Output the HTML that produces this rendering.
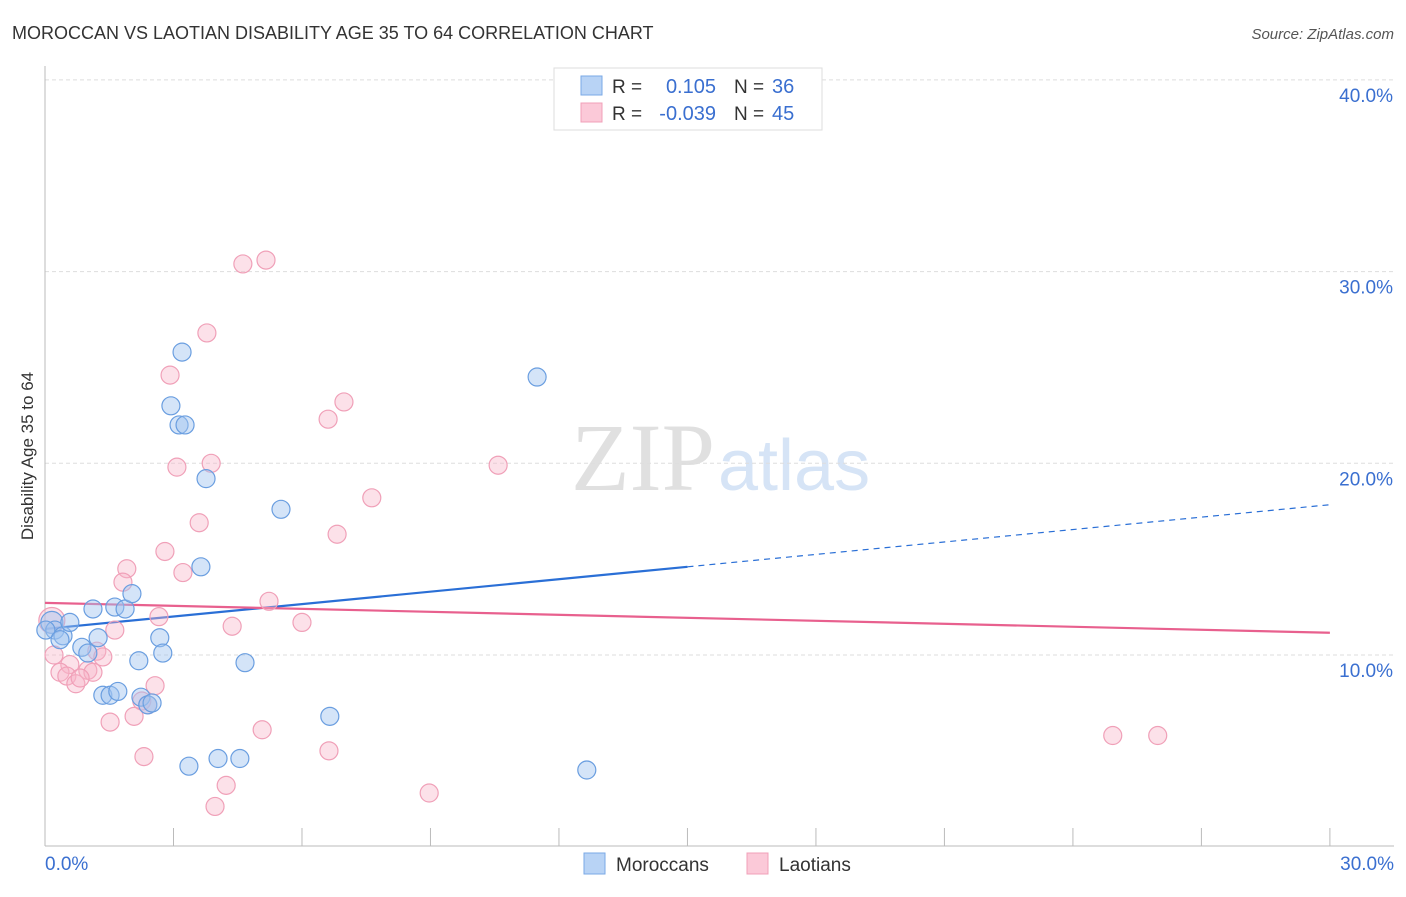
<!DOCTYPE html>
<html><head><meta charset="utf-8">
<style>
body{margin:0;background:#fff;font-family:"Liberation Sans",sans-serif;}
svg text{font-family:"Liberation Sans",sans-serif;}
</style></head>
<body>
<svg id="chart" width="1406" height="892" xmlns="http://www.w3.org/2000/svg">
<text x="12" y="39" font-size="18" fill="#333">MOROCCAN VS LAOTIAN DISABILITY AGE 35 TO 64 CORRELATION CHART</text>
<text x="1394" y="39" font-size="15" fill="#555" font-style="italic" text-anchor="end">Source: ZipAtlas.com</text>
<text x="0" y="0" transform="translate(33,456) rotate(-90)" font-size="17" fill="#333" text-anchor="middle">Disability Age 35 to 64</text>
<text x="715" y="490" font-size="96" fill="#e0e0e0" text-anchor="end" style="font-family:'Liberation Serif',serif">ZIP</text>
<text x="718" y="490" font-size="72" fill="#d6e4f6">atlas</text>
<g id="grid"></g><g id="axes"></g><g id="lines"></g><g id="pts"></g>
<g>
<rect x="554" y="68" width="268" height="62" fill="#fff" stroke="#ddd"/>
<rect x="581" y="76" width="21" height="19" fill="#b8d3f5" stroke="#7aa8e6"/>
<rect x="581" y="103" width="21" height="19" fill="#fbc9d8" stroke="#f0a0b8"/>
<text x="612" y="93" font-size="19" fill="#333">R =</text><text x="716" y="93" font-size="20" fill="#3a6fd0" text-anchor="end">0.105</text>
<text x="734" y="93" font-size="19" fill="#333">N =</text><text x="772" y="93" font-size="20" fill="#3a6fd0">36</text>
<text x="612" y="120" font-size="19" fill="#333">R =</text><text x="716" y="120" font-size="20" fill="#3a6fd0" text-anchor="end">-0.039</text>
<text x="734" y="120" font-size="19" fill="#333">N =</text><text x="772" y="120" font-size="20" fill="#3a6fd0">45</text>
</g>
<g>
<rect x="584" y="853" width="21" height="21" fill="#b8d3f5" stroke="#7aa8e6"/>
<text x="616" y="871" font-size="19" fill="#333">Moroccans</text>
<rect x="747" y="853" width="21" height="21" fill="#fbc9d8" stroke="#f0a0b8"/>
<text x="779" y="871" font-size="19" fill="#333">Laotians</text>
</g>
</svg>
<script>
const xTicks=[0,3,6,9,12,15,18,21,24,27,30];
const yTicks=[10,20,30,40];
const xLabels=["0.0%","30.0%"];
const yLabels=["10.0%","20.0%","30.0%","40.0%"];
const moroccanX=[0.16,0.23,0.42,0.58,1.12,1.24,0.86,1.00,1.63,1.87,2.03,2.19,2.68,2.75,3.20,2.94,3.13,3.27,3.76,3.64,5.51,4.67,11.49,1.35,1.52,1.70,2.24,2.40,2.50,3.36,4.04,4.55,6.65,12.65,0.02,0.35];
const moroccanY=[11.7,11.3,11.0,11.7,12.4,10.9,10.4,10.1,12.5,12.4,13.2,9.7,10.9,10.1,25.8,23.0,22.0,22.0,19.2,14.6,17.6,9.6,24.5,7.9,7.9,8.1,7.8,7.4,7.5,4.2,4.6,4.6,6.8,4.0,11.3,10.8];
const laotianX=[4.62,5.16,3.78,2.92,6.61,6.98,3.08,3.88,10.58,7.63,3.60,6.82,2.80,3.22,1.91,1.82,2.66,5.23,6.00,4.37,1.63,0.16,0.21,0.58,0.35,0.51,0.72,1.00,1.12,1.21,1.35,2.57,2.26,2.40,1.52,2.08,5.07,6.63,2.31,4.23,3.97,8.97,24.93,25.98,0.82];
const laotianY=[30.4,30.6,26.8,24.6,22.3,23.2,19.8,20.0,19.9,18.2,16.9,16.3,15.4,14.3,14.5,13.8,12.0,12.8,11.7,11.5,11.3,11.8,10.0,9.5,9.1,8.9,8.5,9.2,9.1,10.2,9.9,8.4,7.6,7.4,6.5,6.8,6.1,5.0,4.7,3.2,2.1,2.8,5.8,5.8,8.8];
const blueTrend=[11.36,0.216];
const blueSolidEnd=15;
const pinkTrend=[12.72,-0.052];
const X=v=>45+v*42.83, Y=v=>846.7-v*19.17;
const NS="http://www.w3.org/2000/svg";
function mk(tag,attrs,parent){const e=document.createElementNS(NS,tag);for(const k in attrs)e.setAttribute(k,attrs[k]);parent.appendChild(e);return e;}
const grid=document.getElementById('grid'),axes=document.getElementById('axes'),lines=document.getElementById('lines'),pts=document.getElementById('pts');
yTicks.forEach((t,i)=>{
 const g=mk('line',{x1:45,x2:1394,y1:Y(t),y2:Y(t),stroke:'#ddd','stroke-dasharray':'4,3'},grid);
 
 
 const l=mk('text',{x:1393,y:Y(t)+22,'font-size':19,fill:'#3a6fd0','text-anchor':'end'},axes);
 l.textContent=yLabels[i];
 
 
});
const ax=mk('line',{x1:45,x2:45,y1:66,y2:846,stroke:'#bbb'},axes);


const bx=mk('line',{x1:45,x2:1394,y1:846,y2:846,stroke:'#bbb'},axes);


xTicks.forEach(t=>{const e=mk('line',{x1:X(t),x2:X(t),y1:828,y2:846,stroke:'#bbb'},axes);
 
 });
[[0,'start',45],[30,'end',1394]].forEach((a,i)=>{const e=mk('text',{x:a[2],y:870,'font-size':19,fill:'#3a6fd0','text-anchor':a[1]},axes);e.textContent=xLabels[i];
 
 });
function pt(x,y,fill,stroke,r){const c=mk('circle',{cx:X(x),cy:Y(y),r:r||9,fill:fill,stroke:stroke,'stroke-width':1.2},pts);return c;}
laotianX.forEach((x,i)=>{const c=pt(x,laotianY[i],'rgba(248,180,200,0.4)','#f0a0b8',i==21?13:9);
 
 });
moroccanX.forEach((x,i)=>{const c=pt(x,moroccanY[i],'rgba(160,196,240,0.45)','#6a9ee0',i==0?11:9);
 
 });
const f=(t,x)=>t[0]+t[1]*x;
const b1=mk('line',{x1:X(0),y1:Y(f(blueTrend,0)),x2:X(blueSolidEnd),y2:Y(f(blueTrend,blueSolidEnd)),stroke:'#2a6fd6','stroke-width':2.2},lines);


const b2=mk('line',{x1:X(blueSolidEnd),y1:Y(f(blueTrend,blueSolidEnd)),x2:X(30),y2:Y(f(blueTrend,30)),stroke:'#2a6fd6','stroke-width':1.2,'stroke-dasharray':'6,5'},lines);


const p1=mk('line',{x1:X(0),y1:Y(f(pinkTrend,0)),x2:X(30),y2:Y(f(pinkTrend,30)),stroke:'#e8608e','stroke-width':2.2},lines);


</script>
</body></html>
